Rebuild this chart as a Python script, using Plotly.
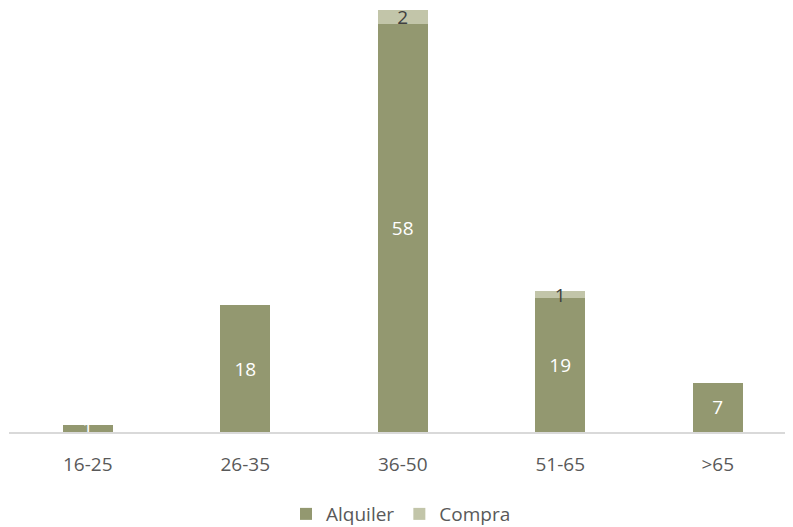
import plotly.graph_objects as go

categorias = ["16-25", "26-35", "36-50", "51-65", ">65"]
alquiler = [1, 18, 58, 19, 7]
compra = [None, None, 2, 1, None]

fuente = "Open Sans"

fig = go.Figure()
fig.add_trace(go.Bar(
    x=categorias, y=alquiler, name="Alquiler",
    marker=dict(color="#939870", line=dict(width=0)),
    text=alquiler, textposition="inside", insidetextanchor="middle", textangle=0,
    textfont=dict(color="white", size=19, family=fuente),
    constraintext="none", cliponaxis=False,
))
fig.add_trace(go.Bar(
    x=categorias, y=compra, name="Compra",
    marker=dict(color="#C2C5A9", line=dict(width=0)),
    text=compra, textposition="inside", insidetextanchor="middle", textangle=0,
    textfont=dict(color="#404040", size=19, family=fuente),
    constraintext="none", cliponaxis=False,
))

# la página añade 8px de margen al body: la figura se ajusta a ese desplazamiento
fig.update_layout(
    barmode="stack",
    bargap=0.68,
    width=785, height=519,
    margin=dict(l=1, r=0, t=0, b=95, autoexpand=False),
    plot_bgcolor="white", paper_bgcolor="white",
    font=dict(family=fuente, color="#595959", size=19),
    legend=dict(orientation="h", x=0.5, xanchor="center",
                yref="container", y=0.025, yanchor="middle",
                font=dict(size=19, color="#595959"), itemwidth=30, traceorder="normal"),
    uniformtext=dict(mode=False),
)
fig.update_xaxes(
    range=[-0.5, 4.478], showline=True, linecolor="#D9D9D9", linewidth=2,
    ticks="outside", ticklen=14, tickcolor="rgba(0,0,0,0)",
    tickfont=dict(size=19, color="#595959"),
)
fig.update_yaxes(range=[0, 60.3], visible=False, showgrid=False, zeroline=False)

fig.write_html("out.html")
